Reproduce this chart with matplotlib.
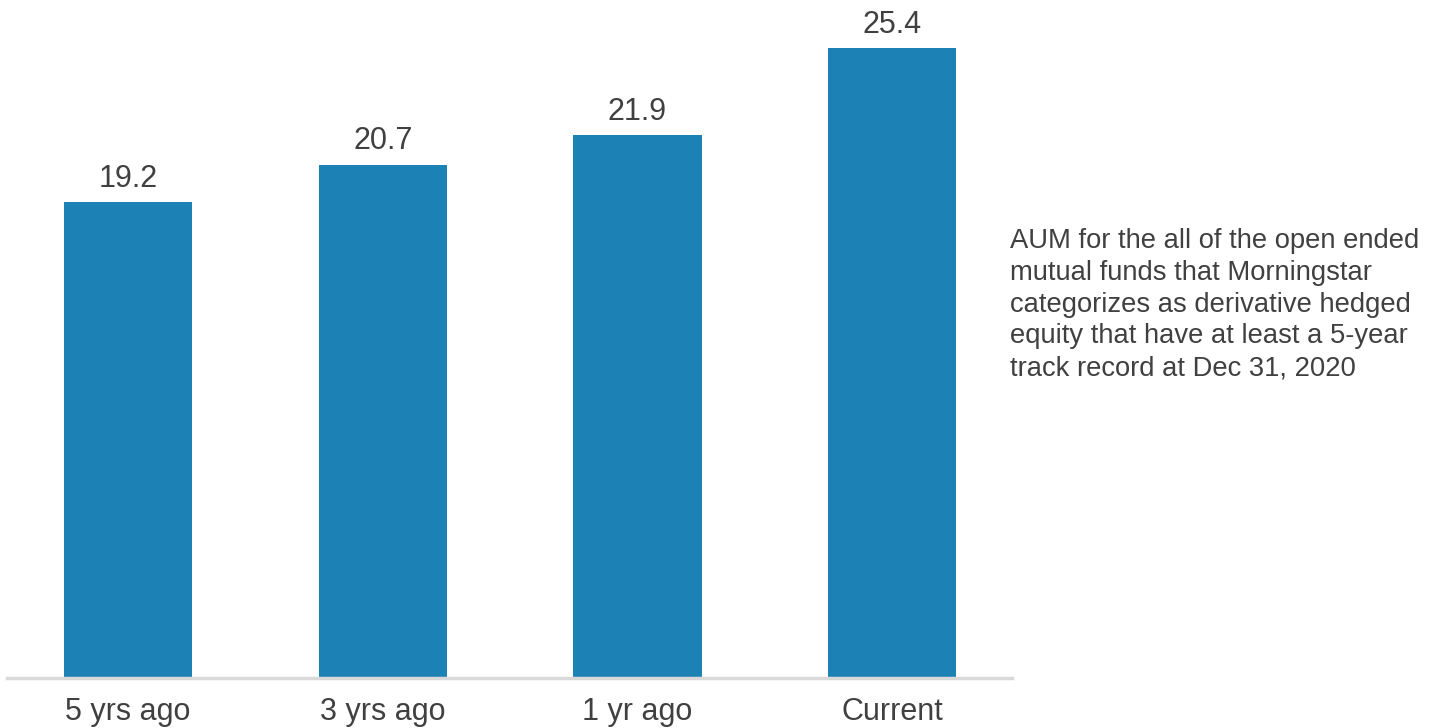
import matplotlib
matplotlib.use("Agg")
import matplotlib.pyplot as plt

categories = ["5 yrs ago", "3 yrs ago", "1 yr ago", "Current"]
values = [19.2, 20.7, 21.9, 25.4]
note = ("AUM for the all of the open ended\nmutual funds that Morningstar\n"
        "categorizes as derivative hedged\nequity that have at least a 5-year\n"
        "track record at Dec 31, 2020")

plt.rcParams['font.family'] = ['Liberation Sans', 'DejaVu Sans']
W, H = 1439, 728
fig = plt.figure(figsize=(W / 100, H / 100), dpi=100)
ax = fig.add_axes([7 / W, 50 / H, (1012 - 7) / W, 678 / H])

bar_color = "#1c82b5"
text_color = "#404040"
x = list(range(len(categories)))
bars = ax.bar(x, values, width=0.503, color=bar_color, zorder=2)
for xi, v in zip(x, values):
    ax.annotate(f"{v:.1f}", (xi, v), xytext=(0, 6), textcoords="offset points",
                ha="center", va="bottom", fontsize=22, color=text_color)

ax.set_xlim(-0.475, 3.47)
ax.set_ylim(0, 678 / 24.8)
ax.set_xticks(x)
ax.set_xticklabels(categories, fontsize=22, color=text_color)
ax.tick_params(axis="x", length=0, pad=14)
ax.set_yticks([])
for s in ["top", "right", "left"]:
    ax.spines[s].set_visible(False)
ax.spines["bottom"].set_color("#d9d9d9")
ax.spines["bottom"].set_linewidth(2.5)

fig.text(1010 / W, 1 - 228 / H, note, ha="left", va="top", fontsize=19.7,
         color=text_color, linespacing=1.29)

fig.savefig("out.png", dpi=100)
